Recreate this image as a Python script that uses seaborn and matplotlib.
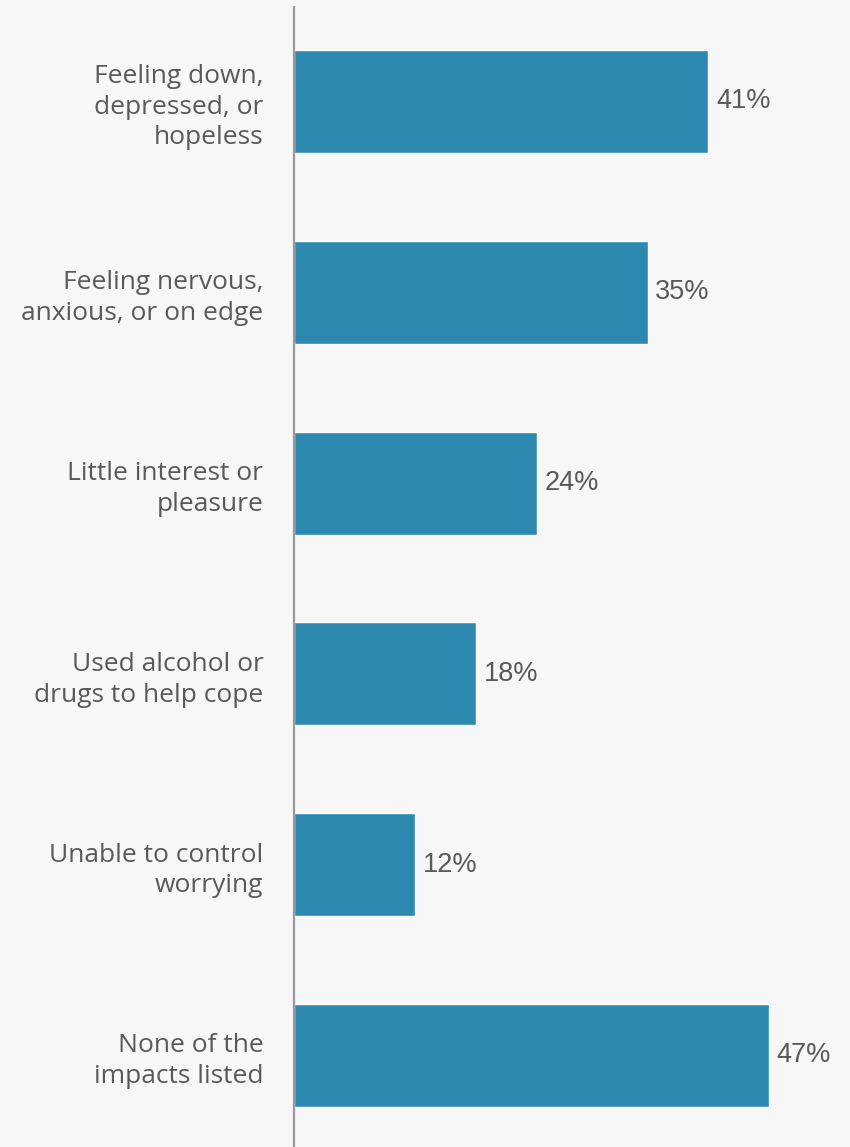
import matplotlib
matplotlib.use("Agg")
import matplotlib.pyplot as plt
import seaborn as sns
import pandas as pd

categories = [
    "Feeling down,\ndepressed, or\nhopeless",
    "Feeling nervous,\nanxious, or on edge",
    "Little interest or\npleasure",
    "Used alcohol or\ndrugs to help cope",
    "Unable to control\nworrying",
    "None of the\nimpacts listed",
]
values = [41, 35, 24, 18, 12, 47]

BG = "#F7F7F7"
BAR = "#2E89B0"
TEXT = "#595959"

sns.set_theme(style="white")
plt.rcParams["font.family"] = ["Open Sans", "DejaVu Sans"]

df = pd.DataFrame({"category": categories, "value": values})

fig = plt.figure(figsize=(8.5, 11.47), dpi=100, facecolor=BG)
ax = fig.add_axes([294 / 850, 0.0, 1 - 294 / 850, 1 - 7 / 1147])
ax.set_facecolor(BG)

sns.barplot(data=df, x="value", y="category", orient="h", color=BAR,
            saturation=1, width=0.54, ax=ax)

ax.set_xlim(0, 55)
ax.set_ylim(5.48, -0.495)
ax.set_xlabel("")
ax.set_ylabel("")
ax.set_xticks([])
for s in ["top", "right", "bottom"]:
    ax.spines[s].set_visible(False)
ax.spines["left"].set_color("#999999")
ax.spines["left"].set_linewidth(1.6)
ax.tick_params(axis="y", length=0, pad=22, labelsize=19, labelcolor=TEXT)
for lbl in ax.get_yticklabels():
    lbl.set_horizontalalignment("right")
    lbl.set_linespacing(1.3)

for i, v in enumerate(values):
    ax.text(v + 0.75, i, f"{v}%", va="center", ha="left", fontsize=19.5,
            color=TEXT, family=["Liberation Sans", "DejaVu Sans"])

fig.savefig("out.png", dpi=100, facecolor=BG)
